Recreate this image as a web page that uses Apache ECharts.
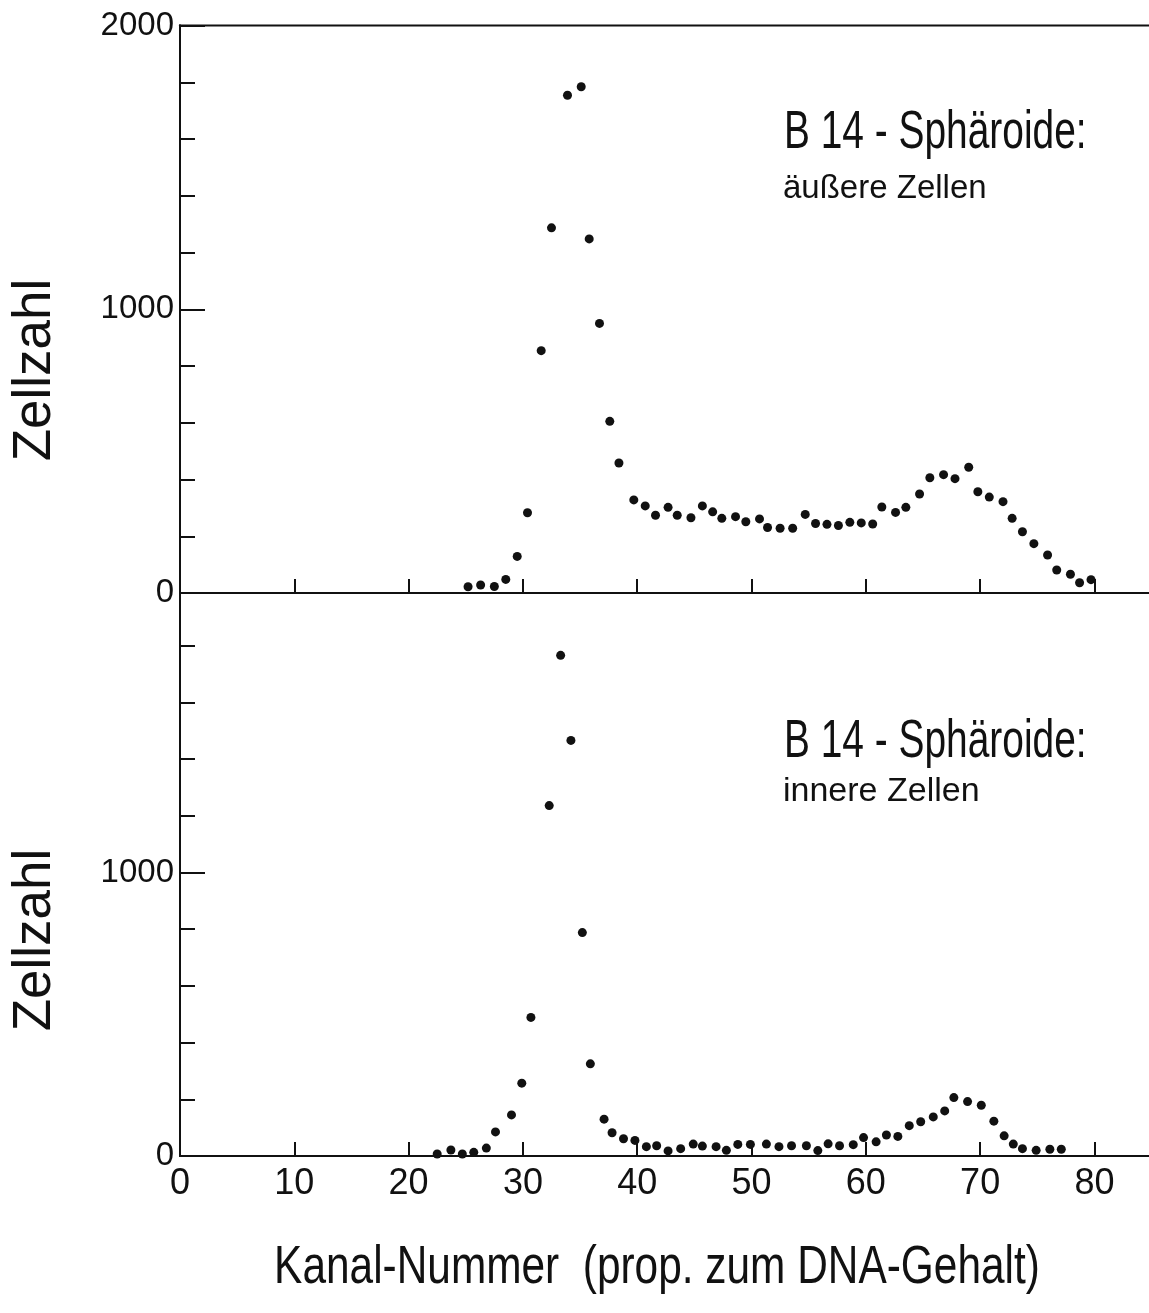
<!DOCTYPE html>
<html>
<head>
<meta charset="utf-8">
<title>B14-Sphäroide: DNA-Verteilung</title>
<script src="https://cdn.jsdelivr.net/npm/echarts@6/dist/echarts.min.js"></script>
<style>
  html, body { margin: 0; padding: 0; background: #fff; }
  #chart { width: 1149px; height: 1313px; }
</style>
</head>
<body>
<div id="chart"></div>
<script>
// values (hand-plotted, so channels are not exact integers)
const outerChannel = [25.2, 26.3, 27.5, 28.5, 29.5, 30.4, 31.6, 32.5, 33.9, 35.1, 35.8, 36.7, 37.6, 38.4,
  39.7, 40.7, 41.6, 42.7, 43.5, 44.7, 45.7, 46.6, 47.4, 48.6, 49.5, 50.7, 51.4, 52.5, 53.6, 54.7,
  55.6, 56.6, 57.6, 58.6, 59.6, 60.6, 61.4, 62.6, 63.5, 64.7, 65.6, 66.8, 67.8, 69.0, 69.8, 70.8,
  72.0, 72.8, 73.7, 74.7, 75.9, 76.7, 77.9, 78.7, 79.7];
const outerCount = [22, 28, 23, 48, 129, 283, 854, 1287, 1754, 1784, 1248, 950, 605, 458,
  328, 307, 274, 302, 274, 265, 307, 286, 263, 269, 251, 261, 231, 228, 228, 277,
  245, 242, 238, 249, 247, 243, 303, 284, 302, 349, 406, 417, 403, 443, 357, 338,
  322, 263, 216, 174, 134, 81, 66, 36, 47];

const innerChannel = [22.5, 23.7, 24.7, 25.7, 26.8, 27.6, 29.0, 29.9, 30.7, 32.3, 33.3, 34.2, 35.2, 35.9,
  37.1, 37.8, 38.8, 39.8, 40.8, 41.7, 42.7, 43.8, 44.9, 45.7, 46.9, 47.8, 48.8, 49.9, 51.3, 52.4,
  53.5, 54.8, 55.8, 56.7, 57.7, 58.9, 59.8, 60.9, 61.8, 62.8, 63.8, 64.8, 65.9, 66.9, 67.7, 68.9,
  70.1, 71.2, 72.1, 72.9, 73.7, 74.9, 76.1, 77.1];
const innerCount = [7, 21, 7, 13, 28, 85, 145, 257, 489, 1236, 1766, 1466, 788, 325,
  130, 82, 61, 55, 33, 36, 18, 26, 42, 35, 33, 20, 41, 41, 42, 33,
  36, 36, 19, 43, 36, 40, 65, 50, 74, 69, 107, 121, 138, 159, 206, 192,
  179, 123, 71, 42, 26, 20, 24, 24];

const yLabelValues = [0, 1000, 2000];
const xLabelStep = 10;

const font = "'Liberation Sans', Arial, sans-serif";
const ink = '#111';

const toPairs = (xs, ys) => xs.map((x, i) => [x, ys[i]]);

const lineStyle = { color: ink, width: 2 };

const makeXAxis = (gridIndex, withLabels) => ({
  type: 'value',
  gridIndex,
  min: 0,
  max: 85,
  interval: xLabelStep,
  axisLine: { show: true, lineStyle },
  axisTick: { show: true, inside: true, length: 14, lineStyle },
  axisLabel: {
    show: withLabels,
    margin: 10,
    fontSize: 36,
    fontFamily: font,
    color: ink,
    formatter: v => (v % xLabelStep === 0 ? String(v) : ''),
  },
  splitLine: { show: false },
});

// two y axes per panel: short ticks every 200, long ticks + labels every 1000
const makeYAxis = (gridIndex, max, major) => ({
  type: 'value',
  gridIndex,
  position: 'left',
  min: 0,
  max,
  interval: major ? 1000 : 200,
  axisLine: { show: true, lineStyle },
  axisTick: { show: true, inside: true, length: major ? 25 : 15, lineStyle },
  axisLabel: {
    show: major,
    margin: 6,
    fontSize: 33,
    fontFamily: font,
    color: ink,
    formatter: v => (yLabelValues.includes(v) ? String(v) : ''),
  },
  splitLine: { show: false },
});

const chart = echarts.init(document.getElementById('chart'), null, { renderer: 'canvas' });

chart.setOption({
  animation: false,
  backgroundColor: '#fff',
  grid: [
    { left: 180, top: 25.5, width: 971.6, height: 567.5, outerBoundsMode: 'none',
      show: true, borderColor: ink, borderWidth: 2 },
    { left: 180, top: 593, width: 971.6, height: 563, outerBoundsMode: 'none' },
  ],
  xAxis: [makeXAxis(0, false), makeXAxis(1, true)],
  yAxis: [
    makeYAxis(0, 2000, false), makeYAxis(0, 2000, true),
    makeYAxis(1, 1986, false), makeYAxis(1, 1986, true),
  ],
  series: [
    {
      name: 'äußere Zellen',
      type: 'scatter',
      xAxisIndex: 0,
      yAxisIndex: 0,
      symbolSize: 9,
      itemStyle: { color: ink, opacity: 1 },
      data: toPairs(outerChannel, outerCount),
    },
    {
      name: 'innere Zellen',
      type: 'scatter',
      xAxisIndex: 1,
      yAxisIndex: 2,
      symbolSize: 9,
      itemStyle: { color: ink, opacity: 1 },
      data: toPairs(innerChannel, innerCount),
    },
  ],
  graphic: [
    {
      type: 'text', x: 35, y: 370, rotation: Math.PI / 2,
      style: { text: 'Zellzahl', font: `53px ${font}`, fill: ink, align: 'center', verticalAlign: 'middle' },
    },
    {
      type: 'text', x: 35, y: 940, rotation: Math.PI / 2,
      style: { text: 'Zellzahl', font: `53px ${font}`, fill: ink, align: 'center', verticalAlign: 'middle' },
    },
    {
      type: 'text', x: 784, y: 133, scaleX: 0.72,
      style: { text: 'B 14 - Sphäroide:', font: `54px ${font}`, fill: ink, verticalAlign: 'middle' },
    },
    {
      type: 'text', x: 783, y: 189,
      style: { text: 'äußere Zellen', font: `33px ${font}`, fill: ink, verticalAlign: 'middle' },
    },
    {
      type: 'text', x: 784, y: 742, scaleX: 0.72,
      style: { text: 'B 14 - Sphäroide:', font: `54px ${font}`, fill: ink, verticalAlign: 'middle' },
    },
    {
      type: 'text', x: 783, y: 792,
      style: { text: 'innere Zellen', font: `34px ${font}`, fill: ink, verticalAlign: 'middle' },
    },
    {
      type: 'text', x: 657, y: 1268, scaleX: 0.8,
      style: { text: 'Kanal-Nummer  (prop. zum DNA-Gehalt)', font: `53px ${font}`, fill: ink,
        align: 'center', verticalAlign: 'middle' },
    },
  ],
});

window.addEventListener('resize', () => chart.resize());
</script>
</body>
</html>
